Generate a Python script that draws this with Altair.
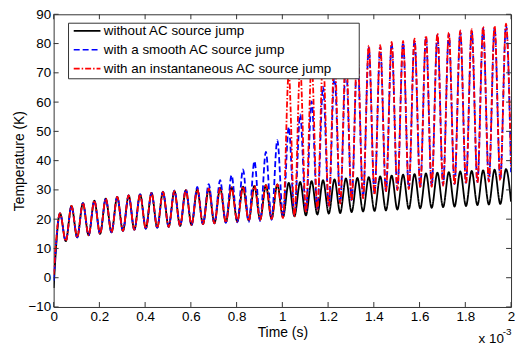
import altair as alt
import pandas as pd

# ---------------- data ----------------
SERIES = ["without AC source jump",
          "with a smooth AC source jump",
          "with an instantaneous AC source jump"]
COLORS = ["#000000", "#0000FF", "#FF0000"]
DASHES = [[1, 0], [6, 3], [6, 2, 1.5, 2]]

# time in units of 1e-3 s
start_time = 0.0
end_time = 2.0
peak_times = [0.028, 0.078, 0.128, 0.178, 0.228, 0.278, 0.328, 0.378, 0.428, 0.478,
              0.528, 0.578, 0.628, 0.678, 0.728, 0.778, 0.828, 0.878, 0.928, 0.978,
              1.028, 1.078, 1.128, 1.178, 1.228, 1.278, 1.328, 1.378, 1.428, 1.478,
              1.528, 1.578, 1.628, 1.678, 1.728, 1.778, 1.828, 1.878, 1.928, 1.978]
trough_times = [0.053, 0.103, 0.153, 0.203, 0.253, 0.303, 0.353, 0.403, 0.453, 0.503,
                0.553, 0.603, 0.653, 0.703, 0.753, 0.803, 0.853, 0.903, 0.953, 1.003,
                1.053, 1.103, 1.153, 1.203, 1.253, 1.303, 1.353, 1.403, 1.453, 1.503,
                1.553, 1.603, 1.653, 1.703, 1.753, 1.803, 1.853, 1.903, 1.953]

# without AC source jump (black)
black_start = -3.5
black_end = 26.0
black_peaks = [22.0, 24.5, 25.5, 26.3, 27.0, 27.6, 28.1, 28.5, 29.0, 29.3,
               29.6, 29.9, 30.2, 30.4, 30.7, 30.9, 31.1, 31.4, 31.6, 31.9,
               32.4, 32.7, 33.0, 33.3, 33.6, 33.9, 34.1, 34.4, 34.6, 34.9,
               35.2, 35.4, 35.6, 35.9, 36.1, 36.3, 36.5, 36.7, 36.9, 37.1]
black_troughs = [12.5, 13.8, 14.5, 15.0, 15.5, 16.0, 16.4, 16.8, 17.1, 17.4,
                 17.7, 18.0, 18.3, 18.6, 18.9, 19.2, 19.5, 19.8, 20.1, 20.7,
                 21.0, 21.3, 21.6, 21.9, 22.1, 22.4, 22.6, 22.8, 23.0, 23.3,
                 23.5, 23.7, 23.9, 24.1, 24.3, 24.5, 24.8, 25.0, 25.2]

# with a smooth AC source jump (blue)
blue_start = -1.0
blue_end = 36.0
blue_peaks = [22.0, 24.5, 25.5, 26.3, 27.0, 27.6, 28.1, 28.5, 29.0, 29.4,
              29.8, 30.3, 31.0, 32.0, 33.3, 35.0, 37.0, 39.8, 43.0, 47.0,
              51.5, 55.8, 60.2, 65.3, 69.5, 73.0, 76.0, 78.6, 78.8, 80.0,
              80.3, 81.1, 82.2, 83.0, 83.2, 84.0, 84.3, 85.2, 85.4, 86.2]
blue_troughs = [12.5, 13.8, 14.5, 15.0, 15.5, 16.0, 16.4, 16.8, 17.1, 17.4,
                17.7, 18.0, 18.3, 18.6, 18.7, 18.9, 19.0, 19.3, 19.8, 20.8,
                21.3, 22.5, 23.6, 24.6, 25.6, 26.5, 27.4, 28.6, 29.6, 30.2,
                30.6, 31.0, 31.3, 31.7, 32.0, 32.4, 32.7, 33.0, 33.4]

# with an instantaneous AC source jump (red)
red_start = 1.0
red_end = 38.0
red_peaks = [22.0, 24.5, 25.5, 26.3, 27.0, 27.6, 28.1, 28.5, 29.0, 29.3,
             29.6, 29.9, 30.2, 30.4, 30.7, 30.9, 31.1, 31.4, 31.6, 31.9,
             70.0, 72.0, 73.5, 75.0, 76.2, 77.3, 78.3, 79.3, 79.5, 80.6,
             80.9, 81.7, 82.7, 83.5, 83.8, 84.5, 84.9, 85.8, 86.0, 86.8]
red_troughs = [12.5, 13.8, 14.5, 15.0, 15.5, 16.0, 16.4, 16.8, 17.1, 17.4,
               17.7, 18.0, 18.3, 18.6, 18.9, 19.2, 19.5, 19.8, 20.1, 20.3,
               20.8, 22.2, 23.3, 24.3, 25.3, 26.2, 27.1, 28.3, 29.3, 29.9,
               30.3, 30.7, 31.0, 31.4, 31.7, 32.1, 32.4, 32.8, 33.2]

x_ticks = [0, 0.2, 0.4, 0.6, 0.8, 1.0, 1.2, 1.4, 1.6, 1.8, 2.0]
y_ticks = [-10, 0, 10, 20, 30, 40, 50, 60, 70, 80, 90]

# ---------------- build the table ----------------
rows = []
for name, s, e, pk, tr in [
    (SERIES[0], black_start, black_end, black_peaks, black_troughs),
    (SERIES[1], blue_start, blue_end, blue_peaks, blue_troughs),
    (SERIES[2], red_start, red_end, red_peaks, red_troughs),
]:
    rows.append({"series": name, "t": start_time, "T": s})
    for tt, v in zip(peak_times, pk):
        rows.append({"series": name, "t": tt, "T": v})
    for tt, v in zip(trough_times, tr):
        rows.append({"series": name, "t": tt, "T": v})
    rows.append({"series": name, "t": end_time, "T": e})
df = pd.DataFrame(rows).sort_values(["series", "t"])

W, H = 461, 295
FONT = "Liberation Sans"

xscale = alt.Scale(domain=[0, 2], nice=False, zero=False)
yscale = alt.Scale(domain=[-10, 90], nice=False, zero=False)

legend = alt.Legend(
    title=None, orient="none", legendX=15, legendY=6,
    symbolType="M-1,0H3.9", symbolSize=121, symbolStrokeWidth=1.6,
    labelFont=FONT, labelFontSize=13.5, labelColor="#000000", labelLimit=0,
    labelOffset=18, rowPadding=4, padding=4,
)

xaxis = alt.Axis(values=x_ticks, format="~g", title="Time (s)",
                 labelFont=FONT, labelFontSize=13.5, labelColor="#000000",
                 labelPadding=3, labelFlush=False, labelOverlap=False,
                 ticks=False, domain=False, grid=False,
                 titleFont=FONT, titleFontSize=14, titleFontWeight="normal",
                 titleColor="#000000", titlePadding=2)
yaxis = alt.Axis(values=y_ticks, format="d", title="Temperature (K)",
                 labelFont=FONT, labelFontSize=13.5, labelColor="#000000",
                 labelPadding=3, labelFlush=False, labelOverlap=False,
                 ticks=False, domain=False, grid=False,
                 titleFont=FONT, titleFontSize=14, titleFontWeight="normal",
                 titleColor="#000000", titlePadding=1)

layers = []
for i, s in enumerate(SERIES):
    layers.append(
        alt.Chart(df).transform_filter(alt.datum.series == s)
        .mark_line(interpolate="monotone", strokeWidth=1.8, clip=True)
        .encode(
            x=alt.X("t:Q", scale=xscale, axis=xaxis),
            y=alt.Y("T:Q", scale=yscale, axis=yaxis),
            color=alt.Color("series:N", scale=alt.Scale(domain=SERIES, range=COLORS), legend=legend),
            strokeDash=alt.StrokeDash("series:N", scale=alt.Scale(domain=SERIES, range=DASHES), legend=legend),
        )
    )

xt = pd.DataFrame({"v": x_ticks})
yt = pd.DataFrame({"v": y_ticks})
TL = 5
tick_bottom = alt.Chart(xt).mark_rule(color="#333333", strokeWidth=1).encode(
    x=alt.X("v:Q", scale=xscale, axis=xaxis), y=alt.value(H), y2=alt.value(H - TL))
tick_top = alt.Chart(xt).mark_rule(color="#333333", strokeWidth=1).encode(
    x=alt.X("v:Q", scale=xscale, axis=xaxis), y=alt.value(0), y2=alt.value(TL))
tick_left = alt.Chart(yt).mark_rule(color="#333333", strokeWidth=1).encode(
    y=alt.Y("v:Q", scale=yscale, axis=yaxis), x=alt.value(0), x2=alt.value(TL))
tick_right = alt.Chart(yt).mark_rule(color="#333333", strokeWidth=1).encode(
    y=alt.Y("v:Q", scale=yscale, axis=yaxis), x=alt.value(W), x2=alt.value(W - TL))

# legend box (white background with frame)
legend_box = alt.Chart(pd.DataFrame({"b": [0]})).mark_rect(
    fill="#FFFFFF", stroke="#333333", strokeWidth=1
).encode(x=alt.value(15), x2=alt.value(308), y=alt.value(9), y2=alt.value(65))

exp_base = alt.Chart(pd.DataFrame({"s": ["x 10"]})).mark_text(
    font=FONT, fontSize=13.5, color="#000000", align="center", baseline="middle"
).encode(text="s:N", x=alt.value(441), y=alt.value(327))
exp_pow = alt.Chart(pd.DataFrame({"s": ["-3"]})).mark_text(
    font=FONT, fontSize=10, color="#000000", align="center", baseline="middle"
).encode(text="s:N", x=alt.value(457), y=alt.value(320))

chart = alt.layer(
    *layers, tick_bottom, tick_top, tick_left, tick_right, legend_box, exp_base, exp_pow
).properties(
    width=W, height=H,
    autosize=alt.AutoSizeParams(type="none"),
    padding={"left": 46, "top": 5, "right": 5, "bottom": 39},
).configure_view(stroke="#333333", strokeWidth=1)

chart.save("out.html", embed_options={"renderer": "svg", "actions": False})
